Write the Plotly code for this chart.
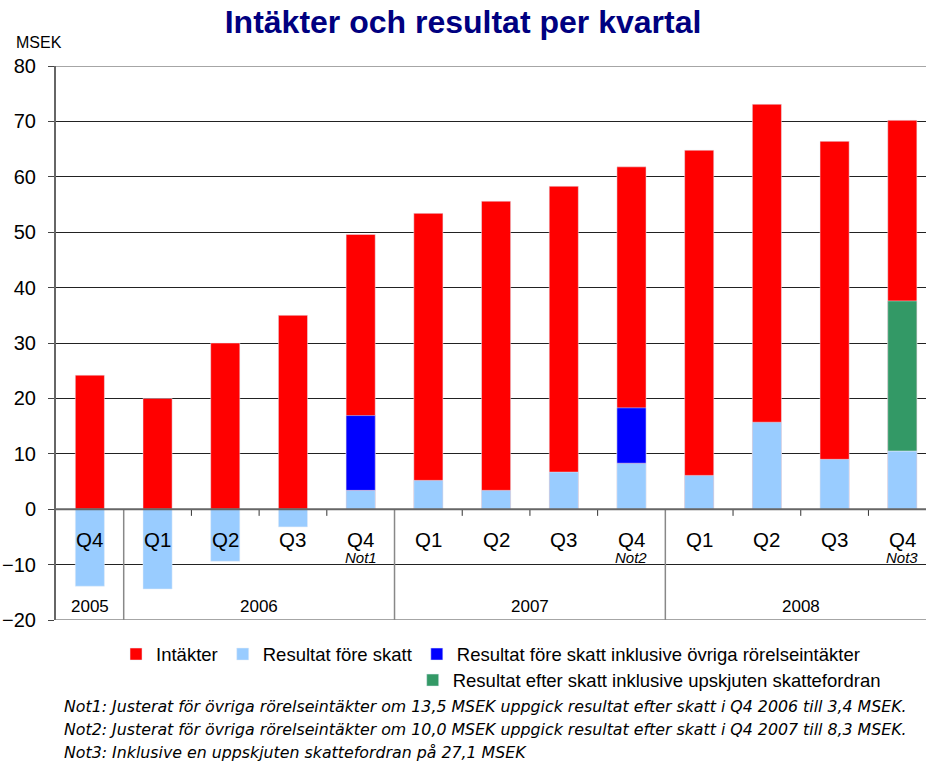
import plotly.graph_objects as go

quarters = ["Q4", "Q1", "Q2", "Q3", "Q4", "Q1", "Q2", "Q3", "Q4", "Q1", "Q2", "Q3", "Q4"]
notes = {4: "Not1", 8: "Not2", 12: "Not3"}
years = ["2005", "2006", "2007", "2008"]
year_spans = [(0, 0), (1, 4), (5, 8), (9, 12)]
intakter = [24.2, 20.0, 30.0, 35.0, 49.6, 53.4, 55.6, 58.3, 61.8, 64.8, 73.1, 66.4, 70.2]
resultat = [-13.9, -14.4, -9.4, -3.2, 3.4, 5.2, 3.4, 6.7, 8.3, 6.1, 15.7, 9.0, 10.5]
ovriga_idx = [4, 8]
ovriga = [13.5, 10.0]
skatt_idx = [12]
skattefordran = [27.1]

x = list(range(len(quarters)))
bw = 0.43
font = "Liberation Sans, Arial, sans-serif"

fig = go.Figure()
fig.add_trace(go.Bar(x=x, y=intakter, width=bw, marker_color="#ff0000", name="Intäkter", legend="legend"))
fig.add_trace(go.Bar(x=x, y=resultat, width=bw, marker_color="#99ccff", name="Resultat före skatt", legend="legend"))
fig.add_trace(go.Bar(x=ovriga_idx, y=ovriga, base=[resultat[i] for i in ovriga_idx], width=bw,
                     marker_color="#0000ff", name="Resultat före skatt inklusive övriga rörelseintäkter", legend="legend"))
fig.add_trace(go.Bar(x=skatt_idx, y=skattefordran, base=[resultat[i] for i in skatt_idx], width=bw,
                     marker_color="#339966", name="Resultat efter skatt inklusive upskjuten skattefordran", legend="legend2"))

shapes = []
year_bounds = [s[0] - 0.5 for s in year_spans[1:]]
for b in [i + 0.5 for i in range(len(quarters) - 1)]:
    if b in year_bounds:
        shapes.append(dict(type="line", xref="x", yref="y", x0=b, x1=b, y0=0, y1=-20,
                           line=dict(color="#888888", width=1.5)))
    else:
        shapes.append(dict(type="line", xref="x", yref="y", x0=b, x1=b, y0=0, y1=-1.2,
                           line=dict(color="#333333", width=1)))
shapes.append(dict(type="line", xref="paper", yref="y", x0=0, x1=1, y0=0, y1=0,
                   line=dict(color="#666666", width=2)))
shapes.append(dict(type="line", xref="paper", yref="y", x0=0, x1=1, y0=80, y1=80,
                   line=dict(color="#888888", width=1.5)))
shapes.append(dict(type="line", xref="paper", yref="y", x0=0, x1=1, y0=-20, y1=-20,
                   line=dict(color="#888888", width=1.5)))

annotations = []
for i, q in enumerate(quarters):
    annotations.append(dict(x=i, y=-5.5, xref="x", yref="y", text=q, showarrow=False,
                            font=dict(family=font, size=20.5, color="#000000")))
for i, n in notes.items():
    annotations.append(dict(x=i, y=-8.7, xref="x", yref="y", text="<i>" + n + "</i>", showarrow=False,
                            font=dict(family=font, size=15, color="#000000")))
for yr, (a, b) in zip(years, year_spans):
    annotations.append(dict(x=(a + b) / 2, y=-17.6, xref="x", yref="y", text=yr, showarrow=False,
                            font=dict(family=font, size=17, color="#000000")))

annotations.append(dict(x=-0.048, y=1.042, xref="paper", yref="paper", text="MSEK", showarrow=False,
                        xanchor="left", yanchor="middle", font=dict(family=font, size=16, color="#000000")))

footnotes = [
    "Not1: Justerat för övriga rörelseintäkter om 13,5 MSEK uppgick resultat efter skatt i Q4 2006 till 3,4 MSEK.",
    "Not2: Justerat för övriga rörelseintäkter om 10,0 MSEK uppgick resultat efter skatt i Q4 2007 till 8,3 MSEK.",
    "Not3: Inklusive en uppskjuten skattefordran på 27,1 MSEK",
]
for k, t in enumerate(footnotes):
    annotations.append(dict(x=0.007, y=-0.157 - k * 0.041, xref="paper", yref="paper", text="<i>" + t + "</i>",
                            showarrow=False, xanchor="left", yanchor="middle",
                            font=dict(family="DejaVu Sans, sans-serif", size=15.8, color="#000000")))

fig.update_layout(
    width=926, height=762,
    margin=dict(l=56, r=0, t=66, b=142),
    paper_bgcolor="white", plot_bgcolor="white",
    barmode="overlay",
    title=dict(text="<b>Intäkter och resultat per kvartal</b>", x=0.5, xref="container", xanchor="center",
               y=0.971, yanchor="middle", font=dict(family=font, size=32, color="#000080")),
    xaxis=dict(range=[-0.5, 12.35], showticklabels=False, showgrid=False, zeroline=False, ticks="",
               showline=False, fixedrange=True),
    yaxis=dict(range=[-20, 80], tickvals=list(range(-20, 81, 10)), showgrid=True, gridcolor="#222222",
               gridwidth=1, zeroline=False, showline=True, linecolor="#666666", linewidth=2,
               ticks="outside", ticklen=6, tickcolor="#444444", ticklabelstandoff=8,
               tickfont=dict(family=font, size=20, color="#000000"), fixedrange=True),
    legend=dict(orientation="h", x=0.069, xanchor="left", y=-0.028, yanchor="top",
                font=dict(family=font, size=18.5, color="#000000"), traceorder="normal",
                itemwidth=30, tracegroupgap=0, bgcolor="rgba(0,0,0,0)"),
    legend2=dict(orientation="h", x=0.41, xanchor="left", y=-0.075, yanchor="top",
                 font=dict(family=font, size=18.5, color="#000000"), itemwidth=30,
                 bgcolor="rgba(0,0,0,0)"),
    shapes=shapes,
    annotations=annotations,
    showlegend=True,
)

fig.write_html("out.html", config={"displayModeBar": False},
               post_script="document.body.style.margin='0';")
